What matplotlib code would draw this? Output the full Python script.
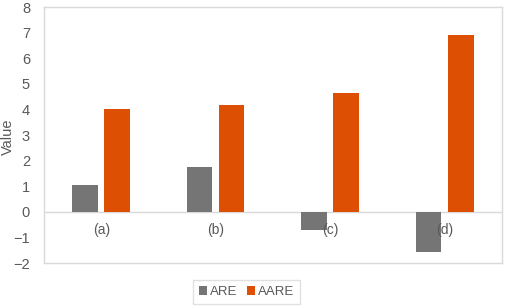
import numpy as np
import matplotlib
matplotlib.use('Agg')
import matplotlib.pyplot as plt

#--------------------------------------------------#
categories = ['(a)', '(b)', '(c)', '(d)']
are = [1.03, 1.77, -0.70, -1.55]    #ARE values.
aare = [4.02, 4.18, 4.66, 6.89]     #AARE values.
yticks = [-2, -1, 0, 1, 2, 3, 4, 5, 6, 7, 8]
#--------------------------------------------------#

gray = '#757575'
orange = '#DD4F02'
txtcol = '#595959'
linecol = '#D9D9D9'
plt.rcParams['font.family'] = ['Liberation Sans', 'DejaVu Sans']

fig = plt.figure(figsize=(5.05, 3.08), dpi=100)
ax = fig.add_axes([0.087, 0.146, 0.907, 0.831])

x = np.arange(len(categories))
w = 0.223
ax.bar(x - 0.14, are, w, color=gray, label='ARE')
ax.bar(x + 0.14, aare, w, color=orange, label='AARE')

ax.axhline(0, color=linecol, lw=1, zorder=0)
ax.set_xlim(-0.5, len(categories) - 0.5)
ax.set_ylim(-2, 8)
ax.set_yticks(yticks)
ax.set_xticks([])
ax.tick_params(axis='y', length=0, pad=10, labelsize=10.5, labelcolor=txtcol)
for s in ax.spines.values():
    s.set_color(linecol)
    s.set_linewidth(1)

for i, c in enumerate(categories):
    ax.text(x[i], -0.72, c, ha='center', va='center', fontsize=10, color=txtcol)

fig.text(8 / 505, 1 - 137 / 308, 'Value', rotation=90, ha='center', va='center',
         fontsize=10.5, color=txtcol)

leg = fig.legend(loc='center', bbox_to_anchor=(246.5 / 505, 1 - 292 / 308),
                 ncol=2, frameon=True, fontsize=9.5, handlelength=0.6, handleheight=0.6,
                 handletextpad=0.25, columnspacing=0.7, borderpad=0.45, fancybox=False)
leg.get_frame().set_edgecolor(linecol)
for t in leg.get_texts():
    t.set_color(txtcol)

fig.savefig('out.png', dpi=100)
